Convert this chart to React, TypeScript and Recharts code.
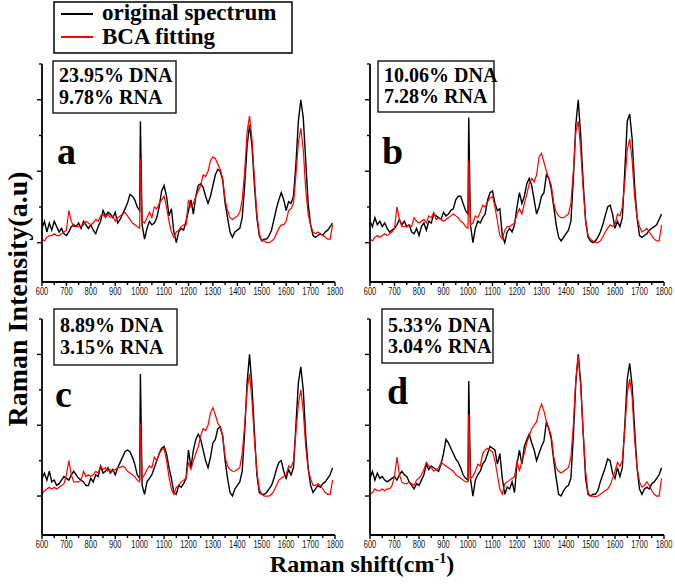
import React from "react";
import { LineChart, Line, XAxis, YAxis } from "recharts";

// Raman shift (cm-1); extra point at 1003 for the phenylalanine spike
const shift = [
  600, 610, 620, 630, 640, 650, 660, 670, 680, 690,
  700, 710, 720, 730, 740, 750, 760, 770, 780, 790,
  800, 810, 820, 830, 840, 850, 860, 870, 880, 890,
  900, 910, 920, 930, 940, 950, 960, 970, 980, 990,
  1000, 1003,
  1010, 1020, 1030, 1040, 1050, 1060, 1070, 1080, 1090,
  1100, 1110, 1120, 1130, 1140, 1150, 1160, 1170, 1180, 1190,
  1200, 1210, 1220, 1230, 1240, 1250, 1260, 1270, 1280, 1290,
  1300, 1310, 1320, 1330, 1340, 1350, 1360, 1370, 1380, 1390,
  1400, 1410, 1420, 1430, 1440, 1450, 1460, 1470, 1480, 1490,
  1500, 1510, 1520, 1530, 1540, 1550, 1560, 1570, 1580, 1590,
  1600, 1610, 1620, 1630, 1640, 1650, 1660, 1670, 1680, 1690,
  1700, 1710, 1720, 1730, 1740, 1750, 1760, 1770, 1780, 1790,
];

// panel a
const origA = [
  1.4, 1.6, 1.3, 1.55, 1.35, 1.6, 1.45, 1.3, 1.4, 1.25,
  1.2, 1.3, 1.45, 1.5, 1.45, 1.55, 1.4, 1.6, 1.5, 1.4,
  1.5, 1.35, 1.25, 1.45, 1.6, 1.9, 1.75, 1.85, 1.8, 1.7,
  1.85, 1.55, 1.65, 1.8, 1.95, 2.1, 2.35, 2.3, 2.2, 2.0,
  1.9, 4.4,
  1.5, 1.1, 1.4, 1.6, 1.5, 1.55, 1.7, 2.0, 2.45,
  2.6, 2.3, 1.75, 1.95, 1.3, 1.0, 1.3, 1.4, 1.35, 1.6,
  1.9, 2.2, 1.8, 2.3, 2.6, 2.65, 2.55, 2.3, 2.1, 2.3,
  2.6, 2.9, 3.05, 3.0, 2.75, 2.1, 1.7, 1.3, 1.15, 1.3,
  1.35, 1.4, 1.7, 2.6, 3.7, 4.3, 3.7, 2.6, 1.7, 1.2,
  1.05, 1.1, 1.1, 1.2, 1.35, 1.65, 1.95, 2.2, 2.4, 2.2,
  1.9, 2.15, 2.1, 2.3, 3.2, 4.4, 5.0, 4.5, 3.3, 2.1,
  1.5, 1.2, 1.15, 1.2, 1.25, 1.2, 1.3, 1.35, 1.45, 1.55,
];
const fitA = [
  1.1, 1.05, 1.15, 1.2, 1.2, 1.25, 1.2, 1.2, 1.25, 1.3,
  1.35, 1.9, 1.6, 1.45, 1.45, 1.45, 1.45, 1.5, 1.6, 1.55,
  1.5, 1.55, 1.65, 1.6, 1.75, 1.8, 1.7, 1.8, 1.7, 1.75,
  1.6, 1.7, 1.75, 1.8, 1.85, 1.75, 1.65, 1.55, 1.5, 1.45,
  1.4, 3.35,
  1.6, 1.55, 1.7, 1.85, 1.7, 2.0, 1.95, 2.1, 2.2,
  2.3, 2.0, 1.6, 1.3, 1.15, 1.3, 1.35, 1.45, 1.5, 1.5,
  2.2, 2.0, 2.1, 2.3, 2.45, 2.6, 2.9, 2.85, 3.0, 3.3,
  3.4, 3.35, 3.2, 3.05, 2.8, 2.2, 1.9, 1.7, 1.65, 1.7,
  1.75, 1.85, 2.2, 3.0, 4.1, 4.55, 3.9, 2.8, 1.8, 1.25,
  1.05, 1.05, 1.0, 1.0, 1.05, 1.1, 1.25, 1.4, 1.5, 1.5,
  1.6, 1.9, 1.95, 2.1, 2.9, 3.8, 4.2, 3.6, 2.5, 1.8,
  1.5, 1.3, 1.25, 1.3, 1.25, 1.2, 1.15, 1.1, 1.1, 1.5,
];

// panel b
const origB = [
  1.6, 1.45, 1.7, 1.5, 1.6, 1.45, 1.55, 1.4, 1.3, 1.35,
  1.4, 1.5, 1.65, 1.5, 1.6, 1.45, 1.5, 1.3, 1.25, 1.4,
  1.2, 1.45, 1.55, 1.35, 1.6, 1.55, 1.8, 1.75, 1.7, 1.65,
  1.85, 1.75, 1.8, 1.9, 1.95, 2.2, 2.3, 2.3, 2.1, 1.9,
  1.8, 4.5,
  1.5, 1.0, 1.4, 1.6, 1.55, 1.7, 1.8, 2.2, 2.4,
  2.45, 2.1, 1.9, 1.95, 1.2, 1.0, 1.3, 1.4, 1.3, 1.5,
  2.0, 2.4, 2.1, 2.3, 2.65, 2.8, 2.6, 2.2, 1.8, 2.0,
  2.3, 2.4, 2.9, 2.8, 2.5, 2.0, 1.5, 1.15, 1.05, 1.15,
  1.25, 1.35, 1.6, 2.8, 4.3, 5.0, 4.0, 2.7, 1.6, 1.15,
  1.05, 1.0, 1.05, 1.15, 1.3, 1.5, 1.75, 2.0, 2.05, 1.8,
  1.4, 1.6, 1.45, 1.7, 3.0, 4.4, 4.6, 3.9, 2.6, 1.7,
  1.2, 1.15, 1.2, 1.25, 1.35, 1.4, 1.45, 1.5, 1.65, 1.8,
];
const fitB = [
  1.1, 1.05, 1.15, 1.2, 1.15, 1.2, 1.25, 1.2, 1.25, 1.3,
  1.4, 2.0, 1.65, 1.45, 1.45, 1.45, 1.5, 1.45, 1.7, 1.6,
  1.55, 1.6, 1.65, 1.55, 1.75, 1.7, 1.85, 1.65, 1.7, 1.65,
  1.6, 1.65, 1.7, 1.75, 1.8, 1.75, 1.7, 1.6, 1.55, 1.45,
  1.4, 3.3,
  1.5, 1.55, 1.75, 1.7, 1.85, 2.05, 2.0, 2.15, 2.25,
  2.3, 2.0, 1.6, 1.2, 1.1, 1.35, 1.45, 1.45, 1.5, 1.55,
  1.8, 1.95, 1.8, 2.1, 2.35, 2.65, 2.8, 2.7, 2.9, 3.4,
  3.5, 3.25, 3.0, 2.8, 2.6, 2.1, 1.85, 1.75, 1.7, 1.7,
  1.75, 1.8, 2.1, 3.0, 4.1, 4.4, 3.6, 2.5, 1.65, 1.2,
  1.1, 1.05, 1.0, 1.0, 1.05, 1.15, 1.3, 1.4, 1.5, 1.45,
  1.5, 1.8, 1.75, 2.0, 2.7, 3.6, 3.9, 3.3, 2.3, 1.7,
  1.45, 1.3, 1.35, 1.4, 1.3, 1.2, 1.1, 1.05, 1.05, 1.5,
];

// panel c
const origC = [
  1.5, 1.65, 1.45, 1.7, 1.4, 1.45, 1.3, 1.35, 1.45, 1.55,
  1.5, 1.45, 1.6, 1.7, 1.6, 1.5, 1.45, 1.4, 1.3, 1.3,
  1.5, 1.4, 1.6, 1.55, 1.85, 1.65, 1.7, 1.8, 1.65, 1.75,
  1.6, 1.8, 1.95, 2.1, 2.25, 2.3, 2.25, 2.1, 1.9, 1.6,
  1.5, 4.45,
  1.3, 1.05, 1.4, 1.5, 1.6, 1.8, 2.0, 2.2, 2.35,
  2.4, 2.2, 1.8, 1.5, 1.1, 1.05, 1.3, 1.25, 1.35, 1.5,
  2.3, 1.8, 2.3, 2.6, 2.75, 2.6, 2.3, 2.0, 1.8, 2.1,
  2.5, 2.6, 2.9, 2.95, 2.7, 2.0, 1.5, 1.1, 1.0, 1.2,
  1.3, 1.4, 1.7, 2.8, 4.2, 5.0, 4.1, 2.8, 1.6, 1.1,
  1.05, 1.05, 1.1, 1.2, 1.3, 1.5, 1.75, 1.95, 2.0, 1.7,
  1.5, 1.75, 1.6, 1.8, 3.0, 4.2, 4.65, 4.0, 2.7, 1.8,
  1.3, 1.1, 1.2, 1.3, 1.25, 1.35, 1.4, 1.5, 1.6, 1.8,
];
const fitC = [
  1.05, 1.15, 1.2, 1.25, 1.2, 1.25, 1.2, 1.25, 1.3, 1.35,
  1.6, 2.0, 1.6, 1.4, 1.4, 1.4, 1.45, 1.7, 1.55, 1.6,
  1.55, 1.6, 1.7, 1.65, 1.85, 1.75, 1.8, 1.7, 1.75, 1.7,
  1.75, 1.8, 1.8, 1.85, 1.8, 1.7, 1.65, 1.6, 1.55, 1.45,
  1.4, 3.05,
  1.5, 1.6, 1.75, 1.85, 1.8, 2.1, 2.0, 2.2, 2.3,
  2.35, 2.0, 1.55, 1.2, 1.05, 1.25, 1.3, 1.4, 1.45, 1.5,
  1.95, 1.75, 2.0, 2.2, 2.4, 2.7, 2.9, 2.85, 3.0, 3.35,
  3.5, 3.3, 3.05, 2.95, 2.7, 2.1, 1.85, 1.75, 1.7, 1.7,
  1.75, 1.8, 2.2, 3.0, 4.0, 4.45, 3.7, 2.6, 1.7, 1.2,
  1.05, 1.0, 1.0, 1.0, 1.05, 1.15, 1.3, 1.45, 1.5, 1.55,
  1.6, 1.85, 1.8, 2.0, 2.8, 3.6, 4.0, 3.4, 2.4, 1.75,
  1.5, 1.3, 1.3, 1.35, 1.3, 1.2, 1.1, 1.05, 1.05, 1.45,
];

// panel d
const origD = [
  1.5, 1.7, 1.45, 1.65, 1.5, 1.55, 1.45, 1.4, 1.45, 1.5,
  1.55, 1.45, 1.6, 1.7, 1.6, 1.55, 1.4, 1.3, 1.2, 1.35,
  1.3, 1.45, 1.6, 1.9, 1.75, 1.85, 1.8, 1.75, 1.7, 1.9,
  2.2, 2.6, 2.5, 2.35, 2.2, 2.05, 1.95, 1.8, 1.6, 1.5,
  1.45, 4.25,
  1.5, 1.0, 1.45, 1.6, 1.7, 1.9, 2.0, 2.2, 2.4,
  2.35, 2.3, 1.9, 2.2, 1.5, 1.05, 1.25, 1.2, 1.4, 1.1,
  1.9, 2.3, 1.9, 2.4, 2.6, 2.75, 2.5, 2.3, 2.0, 2.2,
  2.4, 2.55, 3.1, 2.9, 2.6, 2.0, 1.5, 1.05, 1.0, 1.15,
  1.25, 1.3, 1.5, 2.7, 4.2, 5.0, 4.2, 2.8, 1.5, 1.05,
  1.0, 1.05, 1.05, 1.15, 1.4, 1.6, 1.8, 2.05, 2.0, 1.65,
  1.5, 1.8, 1.55, 1.8, 3.0, 4.3, 4.75, 4.1, 2.9, 1.8,
  1.2, 1.05, 1.2, 1.25, 1.2, 1.35, 1.4, 1.5, 1.6, 1.8,
];
const fitD = [
  1.05, 1.1, 1.2, 1.15, 1.15, 1.2, 1.15, 1.2, 1.2, 1.3,
  1.55, 2.1, 1.6, 1.4, 1.35, 1.35, 1.4, 1.35, 1.3, 1.45,
  1.5, 1.6, 1.75, 1.95, 1.85, 1.8, 1.7, 1.75, 1.8, 1.95,
  1.9, 1.85, 1.8, 1.75, 1.7, 1.6, 1.55, 1.5, 1.45, 1.4,
  1.4, 3.3,
  1.5, 1.55, 1.7, 1.9, 1.85, 2.2, 2.3, 2.35, 2.3,
  2.25, 2.0, 1.6, 1.2, 1.05, 1.35, 1.4, 1.45, 1.5, 1.55,
  2.0, 1.7, 2.0, 2.2, 2.5, 2.7, 2.9, 3.0, 3.1, 3.4,
  3.6, 3.4, 3.1, 2.9, 2.7, 2.1, 1.8, 1.7, 1.65, 1.7,
  1.75, 1.8, 2.1, 3.0, 4.3, 4.95, 4.1, 2.8, 1.7, 1.1,
  1.0, 1.0, 0.98, 1.0, 1.05, 1.1, 1.15, 1.2, 1.3, 1.5,
  1.7, 1.95, 1.85, 2.0, 2.9, 3.9, 4.3, 3.8, 2.6, 1.8,
  1.4, 1.25, 1.3, 1.4, 1.3, 1.15, 1.05, 1.0, 1.0, 1.5,
];

const xTicks = [
  600, 650, 700, 750, 800, 850, 900, 950, 1000, 1050, 1100, 1150, 1200,
  1250, 1300, 1350, 1400, 1450, 1500, 1550, 1600, 1650, 1700, 1750, 1800,
];
const yTicks = [1, 2, 3, 4, 5, 6];

const serif = '"Liberation Serif", "Times New Roman", serif';
const sans = '"Liberation Sans", Arial, sans-serif';

const build = (orig: number[], fit: number[]) =>
  shift.map((s, i) => ({ shift: s, orig: orig[i], fit: fit[i] }));

function XTick(props: any) {
  const { x, y, payload } = props;
  const major = payload.value % 100 === 0;
  return (
    <g>
      <line x1={x} x2={x} y1={y} y2={y + (major ? 4 : 3)} stroke="#000" strokeWidth={1.4} />
      {major && (
        <text
          transform={`translate(${x},${y + 12.5}) scale(0.75,1)`}
          textAnchor="middle"
          fontSize={10}
          fontFamily={sans}
          fill="#111"
        >
          {payload.value}
        </text>
      )}
    </g>
  );
}

function YTick(props: any) {
  const { x, y, payload } = props;
  const major = payload.value % 2 === 1;
  return <line x1={x} x2={x - (major ? 5 : 3)} y1={y} y2={y} stroke="#000" strokeWidth={1.4} />;
}

function Panel({ left, top, width, margin, data }: any) {
  return (
    <div style={{ position: "absolute", left, top }}>
      <LineChart width={width} height={300} data={data} margin={margin}>
        <XAxis
          type="number"
          dataKey="shift"
          domain={[600, 1800]}
          ticks={xTicks}
          interval={0}
          tick={(p: any) => <XTick {...p} />}
          tickLine={false}
          tickSize={0}
          tickMargin={0}
          height={16}
          axisLine={{ stroke: "#000", strokeWidth: 1.8 }}
          allowDataOverflow
        />
        <YAxis
          type="number"
          domain={[-0.1, 6]}
          ticks={yTicks}
          interval={0}
          tick={(p: any) => <YTick {...p} />}
          tickLine={false}
          tickSize={0}
          tickMargin={0}
          width={8}
          axisLine={{ stroke: "#000", strokeWidth: 1.8 }}
          allowDataOverflow
        />
        <Line type="linear" dataKey="orig" stroke="#000" strokeWidth={1.4} dot={false} isAnimationActive={false} />
        <Line type="linear" dataKey="fit" stroke="#ff0000" strokeWidth={1.2} dot={false} isAnimationActive={false} />
      </LineChart>
    </div>
  );
}

const boxes = [
  { x: 53, y: 61, w: 123, h: 52, tx: 59, b1: 82, b2: 104, dna: "23.95% DNA", rna: "9.78% RNA" },
  { x: 378, y: 61, w: 116, h: 51, tx: 384, b1: 82, b2: 103, dna: "10.06% DNA", rna: "7.28% RNA" },
  { x: 54, y: 309, w: 123, h: 56, tx: 60, b1: 332, b2: 354, dna: "8.89% DNA", rna: "3.15% RNA" },
  { x: 382, y: 309, w: 111, h: 54, tx: 388, b1: 332, b2: 353, dna: "5.33% DNA", rna: "3.04% RNA" },
];

const letters = [
  { t: "a", x: 57, y: 164 },
  { t: "b", x: 382, y: 164 },
  { t: "c", x: 55, y: 407 },
  { t: "d", x: 387, y: 404 },
];

export default function App() {
  return (
    <div style={{ position: "relative", width: 675, height: 586, background: "#fff", overflow: "hidden" }}>
      <style>{`body{margin:0}`}</style>
      <Panel left={0} top={0} width={350} margin={{ top: 64, right: 15, bottom: 2, left: 34 }} data={build(origA, fitA)} />
      <Panel left={350} top={0} width={325} margin={{ top: 64, right: 11, bottom: 2, left: 12 }} data={build(origB, fitB)} />
      <Panel left={0} top={260} width={350} margin={{ top: 59, right: 15, bottom: 9, left: 34 }} data={build(origC, fitC)} />
      <Panel left={350} top={260} width={325} margin={{ top: 59, right: 11, bottom: 9, left: 12 }} data={build(origD, fitD)} />

      <svg width={675} height={586} style={{ position: "absolute", left: 0, top: 0, pointerEvents: "none" }}>
        {/* legend */}
        <rect x={54} y={2} width={238} height={51} fill="#fff" stroke="#000" strokeWidth={1.5} />
        <line x1={61} x2={93} y1={14} y2={14} stroke="#000" strokeWidth={2} />
        <line x1={61} x2={93} y1={37} y2={37} stroke="#ff0000" strokeWidth={2} />
        <text x={102} y={20} fontFamily={serif} fontWeight="bold" fontSize={23}>original spectrum</text>
        <text x={102} y={44} fontFamily={serif} fontWeight="bold" fontSize={23}>BCA fitting</text>

        {boxes.map((b) => (
          <g key={b.dna}>
            <rect x={b.x} y={b.y} width={b.w} height={b.h} fill="#fff" stroke="#000" strokeWidth={1.3} />
            <text x={b.tx} y={b.b1} fontFamily={serif} fontWeight="bold" fontSize={20}>{b.dna}</text>
            <text x={b.tx} y={b.b2} fontFamily={serif} fontWeight="bold" fontSize={20}>{b.rna}</text>
          </g>
        ))}

        {letters.map((l) => (
          <text key={l.t} x={l.x} y={l.y} fontFamily={serif} fontWeight="bold" fontSize={38}>{l.t}</text>
        ))}

        <text
          transform="translate(27,299) rotate(-90)"
          textAnchor="middle"
          fontFamily={serif}
          fontWeight="bold"
          fontSize={28}
        >
          Raman Intensity(a.u)
        </text>
        <text x={362} y={572} textAnchor="middle" fontFamily={serif} fontWeight="bold" fontSize={24}>
          Raman shift(cm
          <tspan fontSize={14} dy={-9}>-1</tspan>
          <tspan dy={9}>)</tspan>
        </text>
      </svg>
    </div>
  );
}
